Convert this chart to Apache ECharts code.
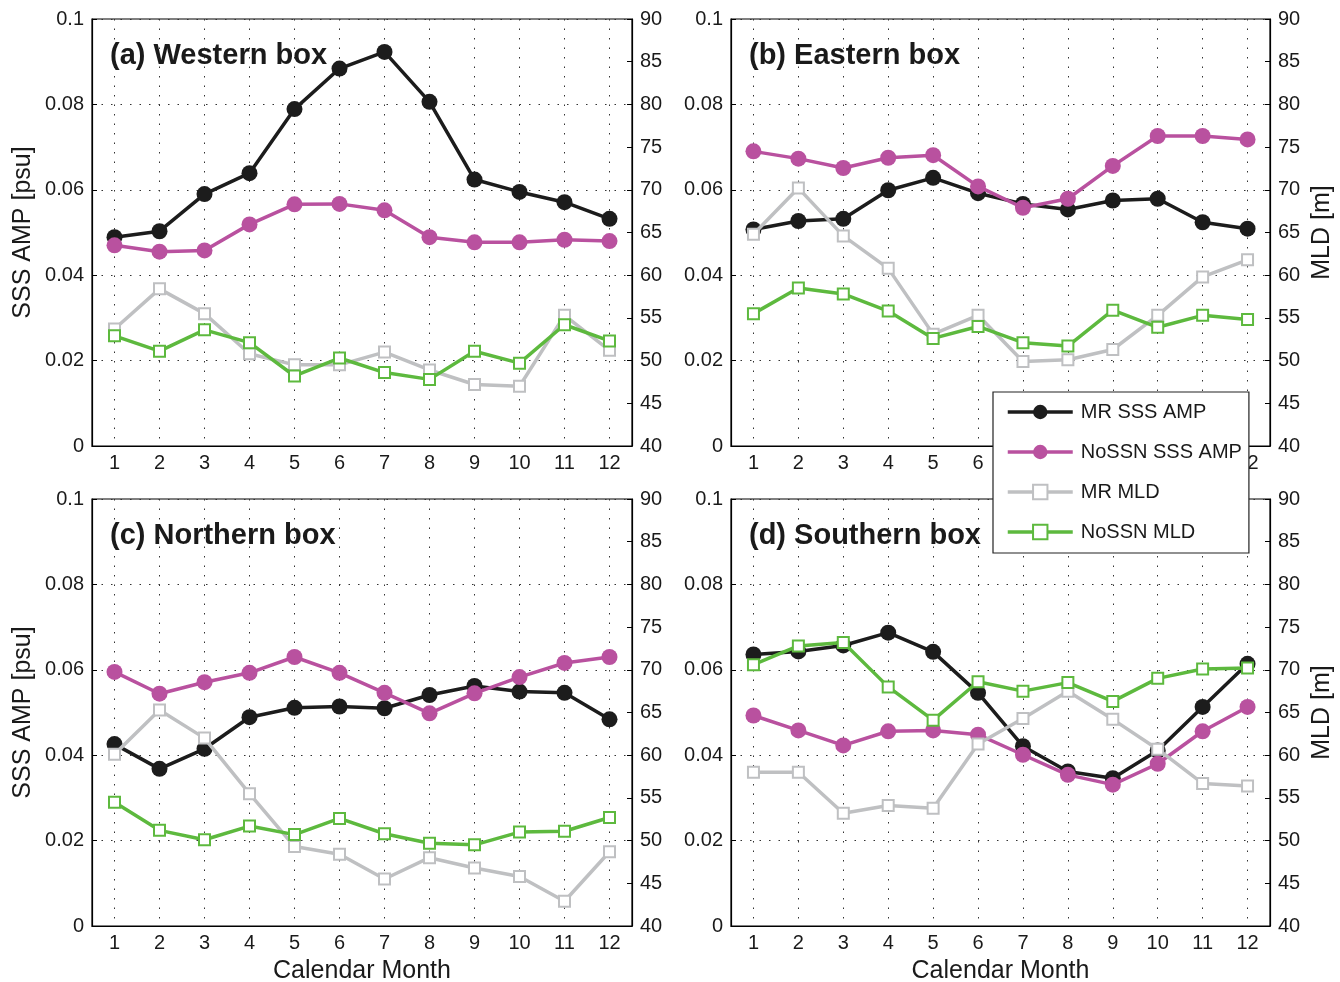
<!DOCTYPE html>
<html>
<head>
<meta charset="utf-8">
<script src="https://cdn.jsdelivr.net/npm/echarts@6/dist/echarts.min.js"></script>
<style>
  html, body { margin: 0; padding: 0; background: #fff; }
  #chart { width: 1340px; height: 982px; }
</style>
</head>
<body>
<div id="chart"></div>
<script>
// Calendar months on the x axis
const months = ['1', '2', '3', '4', '5', '6', '7', '8', '9', '10', '11', '12'];

// Series names
const seriesNames = ['MR SSS AMP', 'NoSSN SSS AMP', 'MR MLD', 'NoSSN MLD'];

// Panel titles
const panelTitles = ['(a) Western box', '(b) Eastern box', '(c) Northern box', '(d) Southern box'];

// (a) Western box
const westMrAmp    = [0.0489, 0.0503, 0.0590, 0.0639, 0.0789, 0.0884, 0.0923, 0.0806, 0.0624, 0.0595, 0.0571, 0.0532];
const westNoAmp    = [0.0470, 0.0455, 0.0458, 0.0519, 0.0566, 0.0567, 0.0552, 0.0489, 0.0477, 0.0477, 0.0483, 0.0480];
const westMrMld    = [53.7, 58.4, 55.5, 50.8, 49.5, 49.5, 51.0, 48.9, 47.2, 47.0, 55.3, 51.2];
const westNoMld    = [52.9, 51.1, 53.6, 52.1, 48.2, 50.3, 48.6, 47.8, 51.1, 49.7, 54.2, 52.3];

// (b) Eastern box
const eastMrAmp    = [0.0507, 0.0527, 0.0532, 0.0599, 0.0628, 0.0592, 0.0567, 0.0554, 0.0575, 0.0579, 0.0524, 0.0509];
const eastNoAmp    = [0.0690, 0.0673, 0.0651, 0.0675, 0.0681, 0.0608, 0.0558, 0.0579, 0.0656, 0.0726, 0.0726, 0.0718];
const eastMrMld    = [64.8, 70.2, 64.6, 60.8, 53.1, 55.3, 49.9, 50.1, 51.3, 55.3, 59.8, 61.8];
const eastNoMld    = [55.5, 58.5, 57.8, 55.8, 52.6, 54.0, 52.1, 51.7, 55.9, 53.9, 55.3, 54.8];

// (c) Northern box
const northMrAmp   = [0.0426, 0.0368, 0.0415, 0.0489, 0.0511, 0.0514, 0.0510, 0.0541, 0.0562, 0.0549, 0.0546, 0.0484];
const northNoAmp   = [0.0595, 0.0544, 0.0571, 0.0593, 0.0630, 0.0593, 0.0546, 0.0498, 0.0545, 0.0583, 0.0616, 0.0630];
const northMrMld   = [60.1, 65.3, 62.0, 55.5, 49.3, 48.4, 45.5, 48.0, 46.8, 45.8, 42.9, 48.7];
const northNoMld   = [54.5, 51.2, 50.1, 51.7, 50.7, 52.6, 50.8, 49.7, 49.5, 51.0, 51.1, 52.7];

// (d) Southern box
const southMrAmp   = [0.0636, 0.0643, 0.0657, 0.0687, 0.0642, 0.0546, 0.0421, 0.0362, 0.0346, 0.0411, 0.0513, 0.0614];
const southNoAmp   = [0.0493, 0.0458, 0.0423, 0.0456, 0.0458, 0.0448, 0.0401, 0.0354, 0.0331, 0.0380, 0.0456, 0.0513];
const southMrMld   = [58.0, 58.0, 53.2, 54.1, 53.8, 61.3, 64.3, 67.5, 64.2, 60.7, 56.7, 56.4];
const southNoMld   = [70.6, 72.8, 73.2, 68.0, 64.1, 68.6, 67.5, 68.5, 66.3, 69.0, 70.1, 70.2];

const panelData = [
  [westMrAmp, westNoAmp, westMrMld, westNoMld],
  [eastMrAmp, eastNoAmp, eastMrMld, eastNoMld],
  [northMrAmp, northNoAmp, northMrMld, northNoMld],
  [southMrAmp, southNoAmp, southMrMld, southNoMld]
];

const colors = ['#1c1c1c', '#b9519f', '#bfc0c2', '#5db93e'];
const FONT = 'Liberation Sans, Arial, Helvetica, sans-serif';
const TEXT = '#1a1a1a';

// Plot boxes: left, top, width, height
const boxes = [
  { left: 92,  top: 19,  width: 540, height: 427 },
  { left: 731, top: 19,  width: 539, height: 427 },
  { left: 92,  top: 499, width: 540, height: 427 },
  { left: 731, top: 499, width: 539, height: 427 }
];

const dotted = { color: '#333', width: 1, type: [1.5, 8] };

const grids = [], xAxes = [], yAxes = [], series = [], titles = [];

boxes.forEach((b, i) => {
  grids.push({
    left: b.left, top: b.top, width: b.width, height: b.height,
    outerBoundsMode: 'none', containLabel: false,
    show: true, borderColor: '#000', borderWidth: 1.2, backgroundColor: 'transparent'
  });

  titles.push({
    text: panelTitles[i],
    left: b.left + 18, top: b.top + 22, padding: 0,
    textStyle: { fontFamily: FONT, fontSize: 29, fontWeight: 'bold', color: TEXT }
  });

  const bottomRow = i >= 2;
  xAxes.push({
    type: 'category', gridIndex: i, data: months, boundaryGap: true,
    name: bottomRow ? 'Calendar Month' : '', nameLocation: 'middle', nameGap: 33,
    nameTextStyle: { fontFamily: FONT, fontSize: 25, color: TEXT },
    axisLine: { lineStyle: { color: '#000', width: 1.2 } },
    axisTick: { inside: true, length: 5, alignWithLabel: true, lineStyle: { color: '#000' } },
    axisLabel: { fontFamily: FONT, fontSize: 20, color: TEXT, margin: 7 },
    splitLine: { show: true, alignWithLabel: true, lineStyle: dotted }
  });

  const leftName = (i % 2 === 0) ? 'SSS AMP [psu]' : '';
  yAxes.push({
    type: 'value', gridIndex: i, position: 'left', min: 0, max: 0.1, interval: 0.02,
    name: leftName, nameLocation: 'middle', nameGap: 56, nameRotate: 90,
    nameTextStyle: { fontFamily: FONT, fontSize: 25, color: TEXT },
    axisLine: { show: true, lineStyle: { color: '#000', width: 1.2 } },
    axisTick: { show: true, inside: true, length: 5, lineStyle: { color: '#000' } },
    axisLabel: {
      fontFamily: FONT, fontSize: 20, color: TEXT, margin: 8,
      formatter: v => (v === 0 ? '0' : String(+v.toFixed(2)))
    },
    splitLine: { show: true, lineStyle: dotted }
  });

  const rightName = (i % 2 === 1) ? 'MLD [m]' : '';
  yAxes.push({
    type: 'value', gridIndex: i, position: 'right', min: 40, max: 90, interval: 5,
    name: rightName, nameLocation: 'middle', nameGap: 40, nameRotate: 90,
    nameTextStyle: { fontFamily: FONT, fontSize: 25, color: TEXT },
    axisLine: { show: true, lineStyle: { color: '#000', width: 1.2 } },
    axisTick: { show: true, inside: true, length: 5, lineStyle: { color: '#000' } },
    axisLabel: { fontFamily: FONT, fontSize: 20, color: TEXT, margin: 8 },
    splitLine: { show: false }
  });

  panelData[i].forEach((vals, k) => {
    const isAmp = k < 2;
    series.push({
      name: seriesNames[k],
      type: 'line',
      xAxisIndex: i,
      yAxisIndex: i * 2 + (isAmp ? 0 : 1),
      data: vals,
      symbol: isAmp ? 'circle' : 'emptyRect',
      symbolSize: isAmp ? 16 : 11,
      showAllSymbol: true,
      color: colors[k],
      lineStyle: { color: colors[k], width: 3.5 },
      itemStyle: isAmp ? { color: colors[k] } : { color: colors[k], borderColor: colors[k], borderWidth: 2.8 },
      emphasis: { disabled: true },
      animation: false,
      z: 2 + k
    });
  });
});

const chart = echarts.init(document.getElementById('chart'), null, { renderer: 'canvas' });
chart.setOption({
  animation: false,
  backgroundColor: '#fff',
  title: titles,
  grid: grids,
  xAxis: xAxes,
  yAxis: yAxes,
  legend: {
    data: seriesNames,
    orient: 'vertical',
    left: 993, top: 392,
    itemWidth: 65, itemHeight: 18, itemGap: 20,
    padding: [10, 7, 11, 13],
    backgroundColor: '#fff', borderColor: '#222', borderWidth: 1.2,
    selectedMode: false,
    lineStyle: { width: 3.5 },
    textStyle: { fontFamily: FONT, fontSize: 20, color: TEXT, padding: [0, 0, 0, 3] },
    z: 20
  },
  series: series
});
</script>
</body>
</html>
